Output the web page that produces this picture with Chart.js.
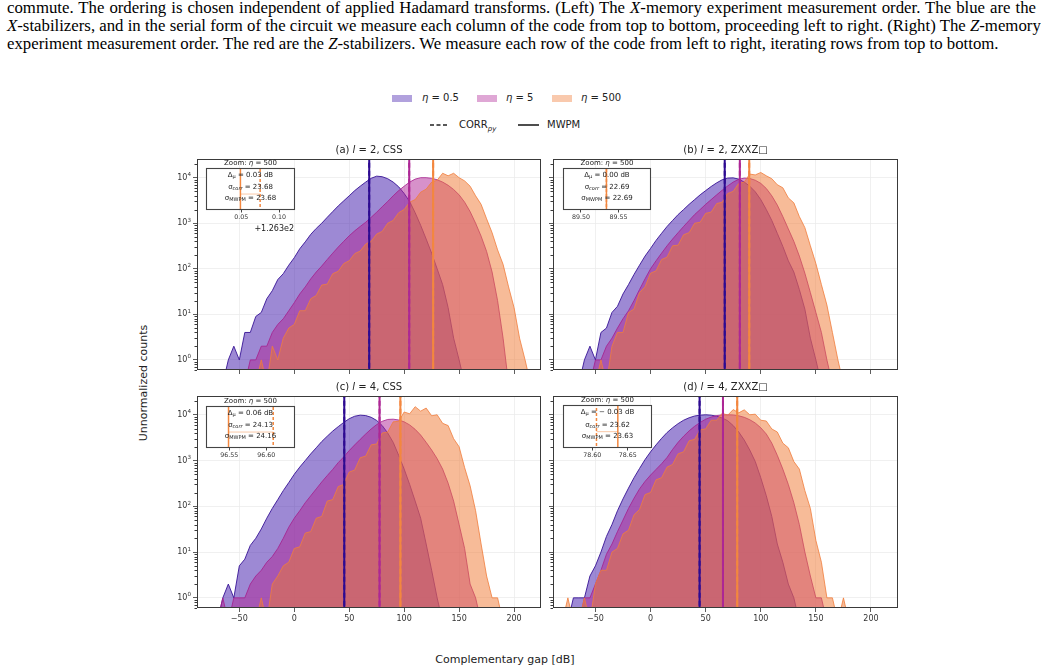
<!DOCTYPE html>
<html>
<head>
<meta charset="utf-8">
<script src="https://cdn.jsdelivr.net/npm/chart.js@4.4.0/dist/chart.umd.min.js"></script>
<style>
body { margin: 0; background: #fff; }
#page { position: relative; width: 1041px; height: 672px; overflow: hidden; font-family: "DejaVu Sans", sans-serif; color: #222; }
.cap { position: absolute; left: 7px; width: 1029px; font-family: "Liberation Serif", serif; font-size: 16.8px; line-height: 18px; color: #000; white-space: nowrap; }
.cap.j { text-align: justify; text-align-last: justify; }
canvas { position: absolute; }
.lg { position: absolute; }
.lt { position: absolute; font-size: 10px; line-height: 12px; white-space: nowrap; }
.lt sub { font-size: 7px; }
#ylab { position: absolute; left: 143px; top: 383px; font-size: 11px; transform: translate(-50%, -50%) rotate(-90deg); white-space: nowrap; }
#xlab { position: absolute; left: 505px; top: 659px; font-size: 11px; transform: translate(-50%, -50%); white-space: nowrap; }
</style>
</head>
<body>
<div id="page">
  <div class="cap j" style="top:-1px">commute. The ordering is chosen independent of applied Hadamard transforms. (Left) The <i>X</i>-memory experiment measurement order. The blue are the</div>
  <div class="cap j" style="top:17px"><i>X</i>-stabilizers, and in the serial form of the circuit we measure each column of the code from top to bottom, proceeding left to right. (Right) The <i>Z</i>-memory</div>
  <div class="cap" style="top:35px">experiment measurement order. The red are the <i>Z</i>-stabilizers. We measure each row of the code from left to right, iterating rows from top to bottom.</div>

  <div class="lg" style="left:392px;top:95px;width:20px;height:7px;background:rgb(177,161,221)"></div>
  <div class="lt" style="left:422px;top:92px"><i>η</i> = 0.5</div>
  <div class="lg" style="left:477px;top:95px;width:20px;height:7px;background:rgb(223,167,213)"></div>
  <div class="lt" style="left:506px;top:92px"><i>η</i> = 5</div>
  <div class="lg" style="left:552px;top:95px;width:20px;height:7px;background:rgb(249,201,173)"></div>
  <div class="lt" style="left:581px;top:92px"><i>η</i> = 500</div>
  <svg class="lg" style="left:430px;top:121px" width="18" height="8"><line x1="0" y1="4" x2="18" y2="4" stroke="#222" stroke-width="1.6" stroke-dasharray="4,2.5"/></svg>
  <div class="lt" style="left:459px;top:119px">CORR<sub><i>py</i></sub></div>
  <svg class="lg" style="left:518px;top:121px" width="21" height="8"><line x1="0" y1="4" x2="21" y2="4" stroke="#222" stroke-width="1.6"/></svg>
  <div class="lt" style="left:547px;top:119px">MWPM</div>

  <div id="ylab">Unnormalized counts</div>
  <div id="xlab">Complementary gap [dB]</div>
</div>
<script>
// histogram bin centres (dB) shared by every panel
const gapBins = [-85,-80,-75,-70,-65,-60,-55,-50,-45,-40,-35,-30,-25,-20,-15,-10,-5,0,5,10,15,20,25,30,35,40,45,50,55,60,65,70,75,80,85,90,95,100,105,110,115,120,125,130,135,140,145,150,155,160,165,170,175,180,185,190,195,200,205,210,215,220];
const xTicks = [-50, 0, 50, 100, 150, 200];
const yDecades = [1, 10, 100, 1000, 10000];

const panelTags = ['(a)', '(b)', '(c)', '(d)'];
const panelL = [2, 2, 4, 4];
const panelCode = ['CSS', 'ZXXZ\u25A1', 'CSS', 'ZXXZ\u25A1'];

// (a) l=2 CSS
const countsA05 = [0,0,0,0,0,1,2,1,4,4,9,11,22,33,58,78,120,175,275,390,570,770,1000,1350,1800,2400,3100,4000,5200,6500,8000,9700,10800,10500,9500,8000,6300,4500,3000,1700,900,450,220,100,45,14,3,1,0,0,0,0,0,0,0,0,0,0,0,0,0,0];
const countsA5 = [0,0,0,0,0,0,0,0,0,1,1,2,2,4,6,8,12,18,28,40,60,85,115,160,220,300,400,530,680,850,1050,1350,1750,2300,3000,4000,5200,6500,8000,9300,10000,10000,9700,9000,8000,6800,5500,4200,2900,1800,1000,520,240,85,20,3,0,0,0,0,0,0];
const countsA500 = [0,0,0,0,0,0,0,0,0,0,0,1,0,2,1,3,5,6,12,12,22,26,44,46,78,88,130,150,215,245,350,400,580,660,1000,1150,1700,2000,2900,3300,4800,5600,8000,8800,12500,11000,12500,10000,8500,6500,4000,2600,1250,620,260,125,40,14,3,1,0,0];
// (b) l=2 ZXXZ
const countsB05 = [0,0,0,0,0,1,2,1,4,5,11,15,28,45,75,120,190,280,420,600,850,1150,1550,2000,2600,3300,4200,5200,6400,7700,9000,9800,9900,9300,8000,6500,4900,3300,2000,1150,600,310,150,85,35,13,3,1,0,0,0,0,0,0,0,0,0,0,0,0,0,0];
const countsB5 = [0,0,0,0,0,0,0,1,1,2,3,5,8,12,20,35,60,100,150,220,320,450,620,850,1150,1550,2000,2600,3300,4200,5300,6600,8000,9200,9800,9600,8800,7500,5800,4000,2500,1400,750,400,190,80,30,11,4,1,0,0,0,0,0,0,0,0,0,0,0,0];
const countsB500 = [0,0,0,0,0,0,0,0,1,0,2,4,4,11,13,30,40,80,90,160,180,320,330,560,620,1000,1050,1650,1750,2700,2900,4500,5000,7500,8000,12000,11500,13000,11000,9500,7000,6000,3600,2800,1400,800,320,130,45,16,4,1,0,0,0,0,0,0,0,0,0,0];
// (c) l=4 CSS
const countsC05 = [0,0,0,0,1,2,1,5,7,14,20,32,55,90,140,220,330,500,720,1000,1400,1900,2600,3400,4400,5500,6800,8200,9300,9800,9600,8800,7500,5800,4000,2500,1300,650,300,130,55,15,4,1,0,0,0,0,0,0,0,0,0,0,0,0,0,0,0,0,0,0];
const countsC5 = [0,0,0,0,1,0,1,1,1,2,3,4,6,8,12,20,35,55,80,120,170,240,340,470,640,900,1200,1650,2200,2900,3800,4900,6100,7200,7900,8000,7700,7000,6000,4800,3600,2500,1700,1100,650,320,130,40,12,2,1,0,0,0,0,0,0,0,0,0,0,0];
const countsC500 = [0,0,0,0,0,0,0,0,0,0,0,1,0,2,3,5,6,12,13,26,28,55,60,130,140,270,300,560,620,1150,1250,2200,2300,4000,4200,7000,7200,11500,10500,15000,12000,14000,9500,10000,6500,5800,3000,2000,700,280,80,15,3,1,1,0,0,0,0,0,0,0];
// (d) l=4 ZXXZ
const countsD05 = [0,0,0,1,1,1,3,5,10,22,40,80,145,250,420,670,1050,1550,2200,3050,4100,5200,6400,7600,8600,9400,9800,10000,9800,9300,8500,7400,5800,4200,2800,1700,950,420,170,60,15,6,2,1,0,0,0,0,0,0,0,0,0,0,0,0,0,0,0,0,0,0];
const countsD5 = [0,0,0,0,0,1,1,2,4,9,15,28,50,90,150,240,350,480,640,850,1170,1750,2500,3400,4450,5600,6800,8000,8900,9600,9950,10000,9900,9500,8800,7800,6600,5200,3800,2400,1300,650,300,120,40,10,3,1,1,0,0,0,0,0,0,0,0,0,0,0,0,0];
const countsD500 = [0,0,1,0,0,1,0,2,4,4,10,12,25,30,65,85,180,200,380,420,720,820,1400,1550,2700,2900,4700,4900,7600,7600,10800,9800,13000,11000,12800,10000,10300,7600,7300,4900,4200,2400,1900,950,650,220,90,18,6,1,1,0,1,0,0,0,0,0,0,0,0,0];

// mean gaps (dB) for eta = 0.5, 5, 500
const mwpmA = [68.2, 104.6, 126.349];
const mwpmB = [67.3, 81.0, 89.534];
const mwpmC = [45.5, 77.6, 96.549];
const mwpmD = [44.5, 65.7, 78.636];
const corrA = [68.2, 104.6, 126.375];
const corrB = [67.3, 81.0, 89.534];
const corrC = [45.5, 77.6, 96.6095];
const corrD = [44.5, 65.7, 78.606];

// zoom insets (eta = 500)
const insetMin = [126.3036, 89.476, 96.5185, 78.559];
const insetMax = [126.421, 89.5935, 96.639, 78.684];
const insetTicks = [[126.35, 126.40], [89.50, 89.55], [96.55, 96.60], [78.60, 78.65]];
const insetOffset = [126.3, 0, 0, 0];
const insetOffsetText = ['+1.263e2', '', '', ''];
const deltaMu = ['0.03', '0.00', '0.06', '\u2212 0.03'];
const sigmaCorr = ['23.68', '22.69', '24.13', '23.62'];
const sigmaMwpm = ['23.68', '22.69', '24.16', '23.63'];

const panelSeries = [
    [countsA05, countsA5, countsA500],
    [countsB05, countsB5, countsB500],
    [countsC05, countsC5, countsC500],
    [countsD05, countsD5, countsD500]
];
const panelMwpm = [mwpmA, mwpmB, mwpmC, mwpmD];
const panelCorr = [corrA, corrB, corrC, corrD];

const fillColors = ['rgba(60,20,170,0.5)', 'rgba(175,35,150,0.5)', 'rgba(240,120,50,0.5)'];
const edgeColors = ['rgba(55,20,150,0.9)', 'rgba(165,30,140,0.8)', 'rgba(240,125,60,0.8)'];
const lineColors = ['#2d0a91', '#ad2795', '#f3873f'];

const boxes = [[197, 159, 541, 370], [553, 159, 898, 370], [197, 396, 541, 608], [553, 396, 898, 608]];
const insetBoxes = [[206, 168, 295, 210], [563, 168, 651, 210], [206, 406, 295, 448], [563, 405, 652, 448]];

const xMin = -88.5, xMax = 224.5, yMin = 0.6, yMax = 25700, logFloor = 0.3;
const FONT = '"DejaVu Sans", sans-serif';
const page = document.getElementById('page');

function drawRich(ctx, parts, cx, cy, align) {
    let w = 0;
    parts.forEach(function(p) { ctx.font = p.font; w += ctx.measureText(p.text).width; });
    let x = align === 'right' ? cx - w : cx - w / 2;
    ctx.textAlign = 'left';
    ctx.textBaseline = 'middle';
    parts.forEach(function(p) {
        ctx.font = p.font;
        ctx.fillText(p.text, x, cy + (p.dy || 0));
        x += ctx.measureText(p.text).width;
    });
}

let framePlugin = {
    id: 'frame',
    afterDraw: function(chart) {
        let ctx = chart.ctx, a = chart.chartArea, y = chart.scales.y;
        let i = chart.options.plugins.frame.panel;
        ctx.save();
        ctx.strokeStyle = '#3a3a3a';
        ctx.lineWidth = 1;
        // minor log ticks
        ctx.beginPath();
        for (let d = -1; d <= 4; d++) {
            for (let m = 2; m <= 9; m++) {
                let v = m * Math.pow(10, d);
                if (v < yMin || v > yMax) continue;
                let py = Math.round(y.getPixelForValue(v)) + 0.5;
                ctx.moveTo(a.left, py);
                ctx.lineTo(a.left - 2.5, py);
            }
        }
        ctx.stroke();
        ctx.strokeRect(a.left + 0.5, a.top + 0.5, a.right - a.left - 1, a.bottom - a.top - 1);
        ctx.fillStyle = '#333';
        // decade labels 10^n on the left-hand panels
        if (i % 2 === 0) {
            yDecades.forEach(function(v) {
                drawRich(ctx, [
                    { text: '10', font: '8px ' + FONT },
                    { text: String(Math.round(Math.log10(v))), font: '5.6px ' + FONT, dy: -3 }
                ], a.left - 6, y.getPixelForValue(v), 'right');
            });
        }
        ctx.fillStyle = '#222';
        drawRich(ctx, [
            { text: panelTags[i] + ' ', font: '10px ' + FONT },
            { text: 'l', font: 'italic 10px ' + FONT },
            { text: ' = ' + panelL[i] + ', ' + panelCode[i], font: '10px ' + FONT }
        ], (a.left + a.right) / 2, a.top - 9);
        ctx.restore();
    }
};

function mainChart(i) {
    let b = boxes[i];
    let padL = 47, padT = 19, padR = 9, padB = 30;
    let cv = document.createElement('canvas');
    cv.width = b[2] - b[0] + padL + padR;
    cv.height = b[3] - b[1] + padT + padB;
    cv.style.left = (b[0] - padL) + 'px';
    cv.style.top = (b[1] - padT) + 'px';
    page.appendChild(cv);

    let datasets = [];
    panelSeries[i].forEach(function(s, k) {
        datasets.push({
            data: gapBins.map(function(x, j) { return { x: x, y: s[j] > 0 ? s[j] : logFloor }; }),
            borderColor: edgeColors[k],
            backgroundColor: fillColors[k],
            borderWidth: 1,
            pointRadius: 0,
            fill: 'start',
            order: 30 - k * 10
        });
    });
    panelCorr[i].forEach(function(m, k) {
        datasets.push({ data: [{ x: m, y: logFloor }, { x: m, y: 1e5 }], borderColor: lineColors[k], borderWidth: 2, borderDash: [5, 3], pointRadius: 0, fill: false, order: 1 });
    });
    panelMwpm[i].forEach(function(m, k) {
        datasets.push({ data: [{ x: m, y: logFloor }, { x: m, y: 1e5 }], borderColor: lineColors[k], borderWidth: 2, pointRadius: 0, fill: false, order: 0 });
    });

    new Chart(cv, {
        type: 'line',
        data: { datasets: datasets },
        options: {
            responsive: false,
            animation: false,
            devicePixelRatio: 1,
            events: [],
            layout: { autoPadding: false, padding: { left: 0, top: padT, right: padR, bottom: 0 } },
            plugins: { legend: { display: false }, tooltip: { enabled: false }, frame: { panel: i } },
            scales: {
                x: {
                    type: 'linear', min: xMin, max: xMax,
                    afterBuildTicks: function(s) { s.ticks = xTicks.map(function(v) { return { value: v }; }); },
                    afterFit: function(s) { s.height = padB; },
                    ticks: {
                        display: i >= 2, autoSkip: false, maxRotation: 0, padding: 2, color: '#333',
                        font: { size: 8, family: FONT },
                        callback: function(v) { return v < 0 ? '\u2212' + Math.abs(v) : String(v); }
                    },
                    grid: { color: '#ececec', lineWidth: 0.8, tickColor: '#333', tickLength: 4 },
                    border: { display: false }
                },
                y: {
                    type: 'logarithmic', min: yMin, max: yMax,
                    afterBuildTicks: function(s) { s.ticks = yDecades.map(function(v) { return { value: v }; }); },
                    afterFit: function(s) { s.width = padL; },
                    ticks: { display: false },
                    grid: { color: '#ececec', lineWidth: 0.8, tickColor: '#333', tickLength: 4 },
                    border: { display: false }
                }
            }
        },
        plugins: [framePlugin]
    });
}

let insetPlugin = {
    id: 'insetFrame',
    beforeDraw: function(chart) {
        let ctx = chart.ctx, a = chart.chartArea;
        ctx.save();
        ctx.fillStyle = '#fff';
        ctx.fillRect(a.left, a.top, a.right - a.left, a.bottom - a.top);
        ctx.restore();
    },
    afterDraw: function(chart) {
        let ctx = chart.ctx, a = chart.chartArea;
        let i = chart.options.plugins.insetFrame.panel;
        let h = a.bottom - a.top, cx = (a.left + a.right) / 2;
        let f = '7px ' + FONT, fs = '5px ' + FONT, fsi = 'italic 5px ' + FONT;
        ctx.save();
        ctx.strokeStyle = '#444';
        ctx.lineWidth = 1.1;
        ctx.strokeRect(a.left + 0.5, a.top + 0.5, a.right - a.left - 1, a.bottom - a.top - 1);
        ctx.fillStyle = '#222';
        drawRich(ctx, [{ text: 'Zoom: ', font: '7px ' + FONT }, { text: '\u03B7', font: 'italic 7px ' + FONT }, { text: ' = 500', font: '7px ' + FONT }], cx, a.top - 4.5);
        drawRich(ctx, [{ text: '\u0394', font: f }, { text: '\u03BC', font: fs, dy: 1.5 }, { text: ' = ' + deltaMu[i] + ' dB', font: f }], cx, a.top + h * 0.17);
        drawRich(ctx, [{ text: '\u03C3', font: f }, { text: 'corr', font: fsi, dy: 1.5 }, { text: ' = ' + sigmaCorr[i], font: f }], cx, a.top + h * 0.46);
        drawRich(ctx, [{ text: '\u03C3', font: f }, { text: 'MWPM', font: fs, dy: 1.5 }, { text: ' = ' + sigmaMwpm[i], font: f }], cx, a.top + h * 0.72);
        if (insetOffsetText[i]) {
            ctx.font = '8px ' + FONT;
            ctx.textAlign = 'right';
            ctx.textBaseline = 'middle';
            ctx.fillText(insetOffsetText[i], a.right - 1, a.bottom + 18.5);
        }
        ctx.restore();
    }
};

function insetChart(i) {
    let b = insetBoxes[i];
    let padL = 10, padT = 12, padR = 10, padB = 25;
    let cv = document.createElement('canvas');
    cv.width = b[2] - b[0] + padL + padR;
    cv.height = b[3] - b[1] + padT + padB;
    cv.style.left = (b[0] - padL) + 'px';
    cv.style.top = (b[1] - padT) + 'px';
    page.appendChild(cv);

    let orange = lineColors[2];
    let mw = panelMwpm[i][2], co = panelCorr[i][2];
    new Chart(cv, {
        type: 'line',
        data: {
            datasets: [
                { data: [{ x: co, y: 0.38 }, { x: mw, y: 0.38 }], borderColor: 'rgba(243,135,63,0.45)', borderWidth: 1, pointRadius: 0, fill: false },
                { data: [{ x: co, y: -1 }, { x: co, y: 2 }], borderColor: orange, borderWidth: 1.5, borderDash: [3, 2], pointRadius: 0, fill: false },
                { data: [{ x: mw, y: -1 }, { x: mw, y: 2 }], borderColor: orange, borderWidth: 1.5, pointRadius: 0, fill: false }
            ]
        },
        options: {
            responsive: false,
            animation: false,
            devicePixelRatio: 1,
            events: [],
            layout: { autoPadding: false, padding: { left: padL, top: padT, right: padR, bottom: 0 } },
            plugins: { legend: { display: false }, tooltip: { enabled: false }, insetFrame: { panel: i } },
            scales: {
                x: {
                    type: 'linear', min: insetMin[i], max: insetMax[i],
                    afterBuildTicks: function(s) { s.ticks = insetTicks[i].map(function(v) { return { value: v }; }); },
                    afterFit: function(s) { s.height = padB; },
                    ticks: {
                        autoSkip: false, maxRotation: 0, padding: 1, color: '#333',
                        font: { size: 6.3, family: FONT },
                        callback: function(v) { return (v - insetOffset[i]).toFixed(2); }
                    },
                    grid: { display: true, drawOnChartArea: false, tickColor: '#444', tickLength: 2.5 },
                    border: { display: false }
                },
                y: { display: false, min: 0, max: 1 }
            }
        },
        plugins: [insetPlugin]
    });
}

for (let i = 0; i < 4; i++) mainChart(i);
for (let i = 0; i < 4; i++) insetChart(i);
</script>
</body>
</html>
